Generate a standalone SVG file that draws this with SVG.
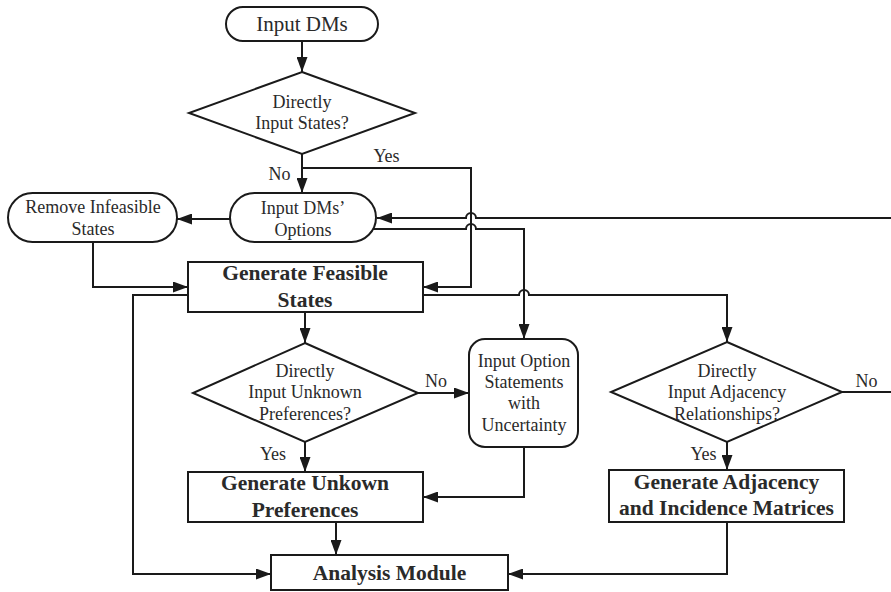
<svg xmlns="http://www.w3.org/2000/svg" width="891" height="592" viewBox="0 0 891 592">
<style>
.shape{fill:#fff;stroke:#1a1a1a;stroke-width:2}
.t{font-family:"Liberation Serif","Times New Roman",serif;font-size:18px;fill:#2a2a2a;text-anchor:middle}
.b{font-family:"Liberation Serif","Times New Roman",serif;font-size:21.5px;font-weight:bold;fill:#2a2a2a;text-anchor:middle}
.c{fill:none;stroke:#1a1a1a;stroke-width:2}
</style>
<defs>
<marker id="ah" markerUnits="userSpaceOnUse" markerWidth="15" markerHeight="11" refX="15" refY="5.5" orient="auto">
<path d="M0,0 L15,5.5 L0,11 z" fill="#1a1a1a"/>
</marker>
</defs>
<rect width="891" height="592" fill="#fff"/>
<g id="connectors">
<path class="c" d="M302,41 V72" marker-end="url(#ah)"/>
<path class="c" d="M302,154 V193" marker-end="url(#ah)"/>
<path class="c" d="M302,168 H471 V287 H423" marker-end="url(#ah)"/>
<path class="c" d="M230,219 H177" marker-end="url(#ah)"/>
<path class="c" d="M93,242 V287 H188" marker-end="url(#ah)"/>
<path class="c" d="M891,218 H476 a5,5 0 0 0 -10,0 H377" marker-end="url(#ah)"/>
<path class="c" d="M373,229 H466 a5,5 0 0 1 10,0 H524 V339" marker-end="url(#ah)"/>
<path class="c" d="M305,312 V343" marker-end="url(#ah)"/>
<path class="c" d="M423,295 H519 a5,5 0 0 1 10,0 H727 V342" marker-end="url(#ah)"/>
<path class="c" d="M188,295 H133 V574 H271" marker-end="url(#ah)"/>
<path class="c" d="M418,393 H469" marker-end="url(#ah)"/>
<path class="c" d="M305,442 V472" marker-end="url(#ah)"/>
<path class="c" d="M524,447 V497 H423" marker-end="url(#ah)"/>
<path class="c" d="M336,522 V555" marker-end="url(#ah)"/>
<path class="c" d="M842,392 H891"/>
<path class="c" d="M727,442 V470" marker-end="url(#ah)"/>
<path class="c" d="M727,522 V574 H508" marker-end="url(#ah)"/>
<text class="t" x="279.5" y="180">No</text>
<text class="t" x="386.5" y="162">Yes</text>
<text class="t" x="436" y="387">No</text>
<text class="t" x="273" y="460">Yes</text>
<text class="t" x="866.5" y="387">No</text>
<text class="t" x="703.5" y="460">Yes</text>
</g>
<g id="input-dms">
<rect class="shape" x="226" y="7" width="152" height="34" rx="17"/>
<text class="t" x="302" y="31" style="font-size:21px">Input DMs</text>
</g>
<g id="directly-input-states">
<polygon class="shape" points="302,72 415,113 302,154 189,113"/>
<text class="t" x="302" y="108">Directly</text>
<text class="t" x="302" y="129">Input States?</text>
</g>
<g id="input-dms-options">
<rect class="shape" x="230" y="193" width="146" height="49" rx="24.5"/>
<text class="t" x="303" y="214">Input DMs’</text>
<text class="t" x="303" y="236">Options</text>
</g>
<g id="remove-infeasible">
<rect class="shape" x="8" y="193" width="169" height="49" rx="24.5"/>
<text class="t" x="93" y="213">Remove Infeasible</text>
<text class="t" x="93" y="235">States</text>
</g>
<g id="generate-feasible">
<rect class="shape" x="188" y="262" width="235" height="50"/>
<text class="b" x="305" y="280">Generate Feasible</text>
<text class="b" x="305" y="307">States</text>
</g>
<g id="directly-input-unknown">
<polygon class="shape" points="305,343 418,393 305,442 193,393"/>
<text class="t" x="305" y="377">Directly</text>
<text class="t" x="305" y="398">Input Unknown</text>
<text class="t" x="305" y="420">Preferences?</text>
</g>
<g id="input-option-statements">
<rect class="shape" x="469" y="339" width="109" height="108" rx="16"/>
<text class="t" x="524" y="367">Input Option</text>
<text class="t" x="524" y="388">Statements</text>
<text class="t" x="524" y="409">with</text>
<text class="t" x="524" y="431">Uncertainty</text>
</g>
<g id="directly-input-adjacency">
<polygon class="shape" points="727,342 842,392 727,442 611,392"/>
<text class="t" x="727" y="377">Directly</text>
<text class="t" x="727" y="398">Input Adjacency</text>
<text class="t" x="727" y="420">Relationships?</text>
</g>
<g id="generate-unknown">
<rect class="shape" x="188" y="472" width="235" height="50"/>
<text class="b" x="305" y="490">Generate Unkown</text>
<text class="b" x="305" y="517">Preferences</text>
</g>
<g id="generate-adjacency">
<rect class="shape" x="609" y="470" width="235" height="52"/>
<text class="b" x="726.5" y="489">Generate Adjacency</text>
<text class="b" x="726.5" y="515">and Incidence Matrices</text>
</g>
<g id="analysis-module">
<rect class="shape" x="271" y="555" width="237" height="35"/>
<text class="b" x="389.5" y="580">Analysis Module</text>
</g>
</svg>
